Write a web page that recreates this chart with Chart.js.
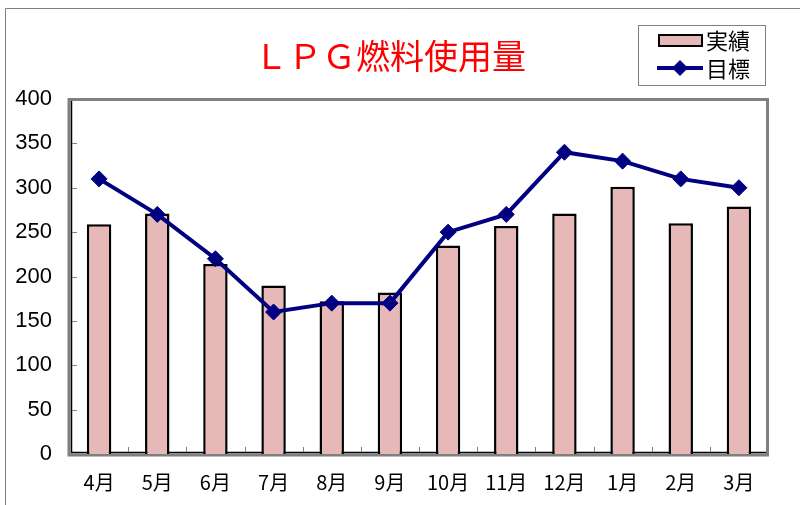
<!DOCTYPE html>
<html><head><meta charset="utf-8">
<script src="https://cdn.jsdelivr.net/npm/chart.js@4/dist/chart.umd.min.js"></script>
<style>html,body{margin:0;padding:0;background:#fff}#wrap{width:800px;height:505px;position:relative}</style>
</head><body><div id="wrap"><canvas id="c" width="800" height="505"></canvas></div>
<script>
const categories = ['4月','5月','6月','7月','8月','9月','10月','11月','12月','1月','2月','3月'];
const actual = [259, 271, 214, 190, 172, 182, 235, 257, 271, 301, 260, 279];
const target = [310, 270, 220, 160, 170, 170, 250, 270, 340, 330, 310, 300];
const yTicks = [0, 50, 100, 150, 200, 250, 300, 350, 400];
const titleText = 'ＬＰＧ燃料使用量';
const legendLabels = ['実績', '目標'];

const JP = '"Noto Sans CJK JP", "Noto Sans", sans-serif';

const deco = {
  id: 'deco',
  beforeDraw(chart) {
    const ctx = chart.ctx;
    ctx.save();
    ctx.fillStyle = '#fff';
    ctx.fillRect(0, 0, chart.width, chart.height);
    ctx.strokeStyle = '#808080';
    ctx.lineWidth = 1;
    ctx.beginPath();
    ctx.moveTo(5.5, 505);
    ctx.lineTo(5.5, 8.5);
    ctx.lineTo(800, 8.5);
    ctx.stroke();
    ctx.restore();
  },
  beforeDatasetsDraw(chart) {
    const ctx = chart.ctx;
    const a = chart.chartArea;
    const xs = chart.scales.x, ys = chart.scales.y;
    ctx.save();
    ctx.strokeStyle = '#808080';
    ctx.lineWidth = 3;
    ctx.strokeRect(a.left - 1, a.top + 0.5, a.right - a.left + 0.5, a.bottom - a.top + 0.5);
    ctx.strokeStyle = '#000';
    ctx.lineWidth = 1.5;
    ctx.beginPath();
    ctx.moveTo(a.left + 1.5, a.top + 2);
    ctx.lineTo(a.left + 1.5, a.bottom - 1.5);
    ctx.lineTo(a.right - 2, a.bottom - 1.5);
    ctx.stroke();
    ctx.strokeStyle = '#808080';
    ctx.lineWidth = 1;
    ctx.beginPath();
    yTicks.forEach(v => {
      const y = Math.round(ys.getPixelForValue(v)) + 0.5;
      ctx.moveTo(a.left + 2, y);
      ctx.lineTo(a.left + 7, y);
    });
    const n = categories.length;
    for (let i = 1; i < n; i++) {
      const x = Math.round((xs.getPixelForValue(i - 1) + xs.getPixelForValue(i)) / 2) + 0.5;
      ctx.moveTo(x, a.bottom - 2);
      ctx.lineTo(x, a.bottom - 7);
    }
    ctx.stroke();
    ctx.restore();
  },
  afterDraw(chart) {
    const ctx = chart.ctx;
    ctx.save();
    ctx.fillStyle = '#ff0000';
    ctx.font = '34px ' + JP;
    ctx.textAlign = 'center';
    ctx.textBaseline = 'middle';
    ctx.fillText(titleText, 390, 56);
    ctx.strokeStyle = '#808080';
    ctx.lineWidth = 1;
    ctx.fillStyle = '#fff';
    ctx.fillRect(638.5, 25.5, 127, 60);
    ctx.strokeRect(638.5, 25.5, 127, 60);
    ctx.fillStyle = '#E6B8B7';
    ctx.fillRect(659, 35, 43, 11);
    ctx.strokeStyle = '#000';
    ctx.lineWidth = 2;
    ctx.strokeRect(659, 35, 43, 11);
    ctx.strokeStyle = '#000080';
    ctx.lineWidth = 4;
    ctx.beginPath();
    ctx.moveTo(657, 68);
    ctx.lineTo(703, 68);
    ctx.stroke();
    ctx.fillStyle = '#000080';
    ctx.beginPath();
    ctx.moveTo(680, 60); ctx.lineTo(688, 68); ctx.lineTo(680, 76); ctx.lineTo(672, 68);
    ctx.closePath(); ctx.fill();
    ctx.fillStyle = '#000';
    ctx.font = '22px ' + JP;
    ctx.textAlign = 'left';
    ctx.fillText(legendLabels[0], 706, 41);
    ctx.fillText(legendLabels[1], 706, 69);
    ctx.restore();
  }
};

new Chart(document.getElementById('c'), {
  data: {
    labels: categories,
    datasets: [
      {
        type: 'line', label: legendLabels[1], data: target, order: 0,
        borderColor: '#000080', backgroundColor: '#000080', borderWidth: 4,
        pointStyle: 'rectRot', pointRadius: 8, pointHoverRadius: 8,
        pointBackgroundColor: '#000080', pointBorderColor: '#000080', pointBorderWidth: 1,
        tension: 0
      },
      {
        type: 'bar', label: legendLabels[0], data: actual, order: 1,
        backgroundColor: '#E6B8B7', borderColor: '#000', borderWidth: 2.5,
        barPercentage: 0.42, categoryPercentage: 1.0
      }
    ]
  },
  options: {
    responsive: false, animation: false,
    devicePixelRatio: 1,
    layout: { padding: { top: 99, right: 32, bottom: 0, left: 0 } },
    plugins: { legend: { display: false }, tooltip: { enabled: false }, title: { display: false } },
    scales: {
      x: {
        grid: { display: false, drawTicks: false },
        border: { display: false },
        offset: true,
        ticks: { color: '#000', font: { family: JP, size: 20 }, padding: 16, maxRotation: 0, autoSkip: false },
        afterFit(s) { s.height = 51; }
      },
      y: {
        min: 0, max: 400,
        grid: { display: false, drawTicks: false },
        border: { display: false },
        afterBuildTicks(s) { s.ticks = yTicks.map(v => ({ value: v })); },
        ticks: { color: '#000', font: { family: '"Liberation Sans", Arial, sans-serif', size: 22 }, padding: 18 },
        afterFit(s) { s.width = 70; }
      }
    }
  },
  plugins: [deco]
});
</script>
</body></html>
